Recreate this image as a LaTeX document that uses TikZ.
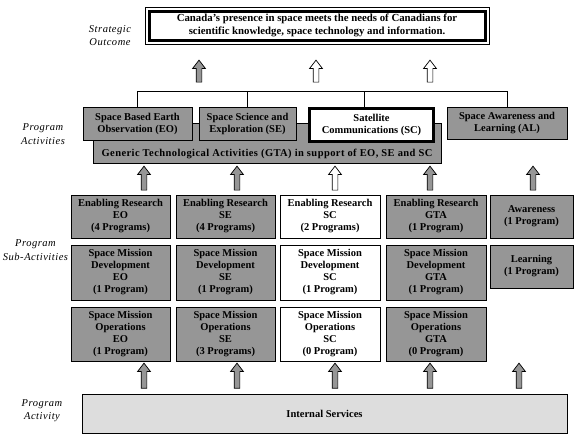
\documentclass[tikz,border=0pt]{standalone}
\usepackage{fontspec}
\setmainfont{Liberation Serif}
\usetikzlibrary{shapes.arrows}
\definecolor{boxgray}{RGB}{150,150,150}
\definecolor{svcgray}{RGB}{221,221,221}

\begin{document}
\begin{tikzpicture}[x=1pt, y=-1pt,
	box/.style = {draw, line width=.9pt, fill=boxgray, align=center, inner sep=0pt, font=\fontsize{10.5}{12}\selectfont\bfseries},
	cell/.style = {box, minimum width=99pt},
	lbl/.style = {align=center, font=\fontsize{10.5}{13.5}\selectfont\itshape\addfontfeature{LetterSpace=5}},
	up/.style = {draw, line width=.7pt, fill=boxgray, single arrow, shape border rotate=90, single arrow head extend=3.5pt, single arrow tip angle=75, single arrow head indent=0pt, inner sep=2.5pt}]
	\useasboundingbox (0,0) rectangle (580,442);
	
	\node[lbl] (lso) at (110,35.5) {Strategic\\Outcome};
	\node[lbl] (lpa) at (43,134) {Program\\Activities};
	\node[lbl] (lpsa) at (35.5,250) {Program\\Sub-Activities};
	\node[lbl] (lpact) at (42,410.5) {Program\\Activity};
	
	\node[box, fill=white, line width=3pt, minimum width=336pt, minimum height=29pt, font=\fontsize{10.8}{13}\selectfont\bfseries] (goal) at (317,25.5) {Canada's presence in space meets the needs of Canadians for\\scientific knowledge, space technology and information.};
	\draw[line width=.8pt] ([xshift=-2.5pt, yshift=2.5pt]goal.north west) rectangle ([xshift=2.5pt, yshift=-2.5pt]goal.south east);
	
	\node[up, minimum height=22pt] (u1) at (199,73) {};
	\node[up, minimum height=22pt, fill=white] (u2) at (316,73) {};
	\node[up, minimum height=22pt, fill=white] (u3) at (430,73) {};
	
	\node[box, minimum width=348pt, text height=33.5pt, text depth=6.5pt, font=\fontsize{10.5}{12}\selectfont\bfseries\addfontfeature{LetterSpace=4}] (gta) at (267,143) {Generic Technological Activities (GTA) in support of EO, SE and SC};
	\node[box, minimum width=109pt, minimum height=33pt] (eo) at (137.5,123.5) {Space Based Earth\\Observation (EO)};
	\node[box, minimum width=97pt, minimum height=33pt] (se) at (247.5,123.5) {Space Science and\\Exploration (SE)};
	\node[box, fill=white, line width=3pt, minimum width=124pt, minimum height=33pt] (sc) at (371.5,125) {Satellite\\Communications (SC)};
	\node[box, minimum width=120pt, minimum height=32pt] (al) at (507,123) {Space Awareness and\\Learning (AL)};
	
	\coordinate (bar) at (0,91);
	\draw[line width=.8pt] (eo.north) -- (eo.north |- bar) -- (al.north |- bar) -- (al.north);
	\draw[line width=.8pt] (se.north) -- (se.north |- bar);
	\draw[line width=.8pt] ([xshift=-7.5pt]sc.north) -- ([xshift=-7.5pt]sc.north |- bar);
	
	\node[up, minimum height=24pt] (m1) at (144,180) {};
	\node[up, minimum height=24pt] (m2) at (237,180) {};
	\node[up, minimum height=24pt, fill=white] (m3) at (335,180) {};
	\node[up, minimum height=24pt] (m4) at (430,180) {};
	\node[up, minimum height=24pt] (m5) at (533,180) {};
	
	\node[cell, minimum height=43pt] (reo) at (120.5,216.5) {Enabling Research\\EO\\(4 Programs)};
	\node[cell, minimum height=43pt] (rse) at (225.5,216.5) {Enabling Research\\SE\\(4 Programs)};
	\node[cell, minimum height=43pt, fill=white, minimum width=100pt] (rsc) at (330,216.5) {Enabling Research\\SC\\(2 Programs)};
	\node[cell, minimum height=43pt, minimum width=100pt] (rgta) at (436,216.5) {Enabling Research\\GTA\\(1 Program)};
	\node[box, minimum height=43pt, minimum width=83pt] (aw) at (531.5,216.5) {Awareness\\(1 Program)};
	
	\node[cell, minimum height=55pt] (deo) at (120.5,272.5) {Space Mission\\Development\\EO\\(1 Program)};
	\node[cell, minimum height=55pt] (dse) at (225.5,272.5) {Space Mission\\Development\\SE\\(1 Program)};
	\node[cell, minimum height=55pt, fill=white, minimum width=100pt] (dsc) at (330,272.5) {Space Mission\\Development\\SC\\(1 Program)};
	\node[cell, minimum height=55pt, minimum width=100pt] (dgta) at (436,272.5) {Space Mission\\Development\\GTA\\(1 Program)};
	\node[box, minimum height=43pt, minimum width=83pt] (lrn) at (531.5,266.5) {Learning\\(1 Program)};
	
	\node[cell, minimum height=54pt] (oeo) at (120.5,334) {Space Mission\\Operations\\EO\\(1 Program)};
	\node[cell, minimum height=54pt] (ose) at (225.5,334) {Space Mission\\Operations\\SE\\(3 Programs)};
	\node[cell, minimum height=54pt, fill=white, minimum width=100pt] (osc) at (330,334) {Space Mission\\Operations\\SC\\(0 Program)};
	\node[cell, minimum height=54pt, minimum width=100pt] (ogta) at (436,334) {Space Mission\\Operations\\GTA\\(0 Program)};
	
	\node[up, minimum height=25pt] (l1) at (144,377.5) {};
	\node[up, minimum height=25pt] (l2) at (237,377.5) {};
	\node[up, minimum height=25pt] (l3) at (335,377.5) {};
	\node[up, minimum height=25pt] (l4) at (430,377.5) {};
	\node[up, minimum height=25pt] (l5) at (519,377.5) {};
	
	\node[box, fill=svcgray, minimum width=485pt, minimum height=39pt] (svc) at (324.5,413.5) {Internal Services};
\end{tikzpicture}
\end{document}
